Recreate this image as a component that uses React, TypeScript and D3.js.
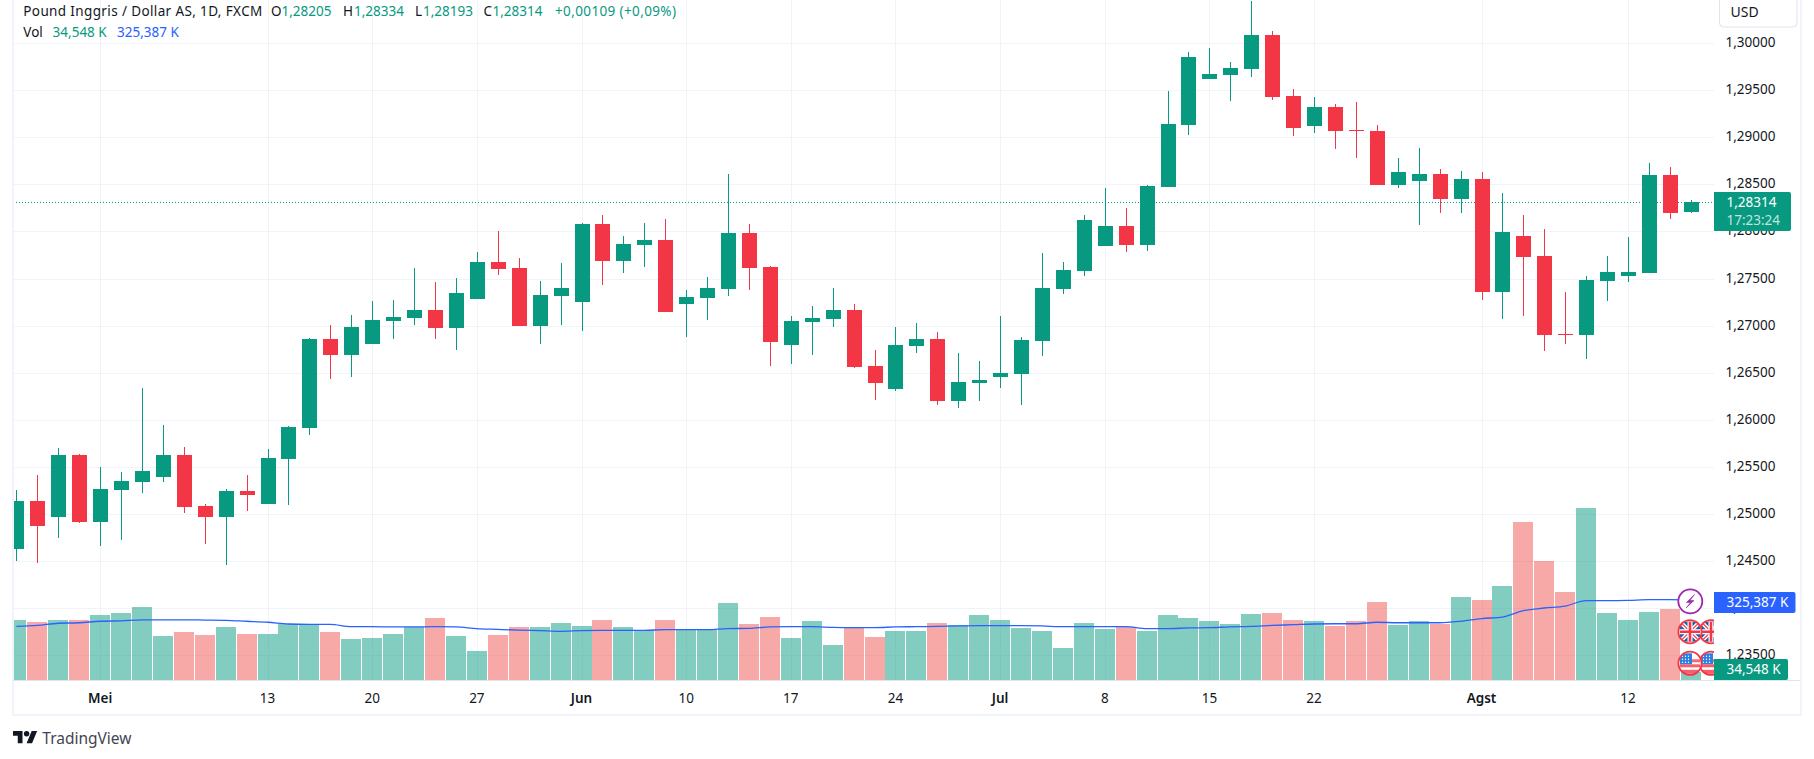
import * as d3 from "d3";

const opens = [
  1.24624, 1.25131, 1.24961, 1.25621, 1.24908, 1.25248, 1.25333, 1.25387, 1.25621, 1.25078, 1.24961,
  1.25238, 1.25099, 1.25578, 1.25908, 1.26855, 1.26684, 1.26802, 1.27046, 1.27078, 1.27163, 1.26972,
  1.2728, 1.27674, 1.2761, 1.26993, 1.27312, 1.27248, 1.28078, 1.27684, 1.27855, 1.27908, 1.27227,
  1.27291, 1.27387, 1.27982, 1.27621, 1.26791, 1.27036, 1.27067, 1.27163, 1.26567, 1.26323, 1.2678,
  1.26855, 1.26195, 1.26387, 1.2645, 1.26482, 1.26833, 1.27387, 1.27578, 1.27844, 1.28057, 1.27855,
  1.28472, 1.29131, 1.29621, 1.29663, 1.29727, 1.30089, 1.2944, 1.29121, 1.29323, 1.29078, 1.29067,
  1.28493, 1.28536, 1.2861, 1.28344, 1.28557, 1.27355, 1.2795, 1.27738, 1.26908, 1.26897, 1.27472,
  1.27525, 1.27557, 1.28599, 1.28205,
];
const highs = [
  1.25248, 1.25408, 1.25695, 1.25631, 1.25493, 1.2544, 1.26333, 1.2594, 1.25706, 1.25099, 1.25259,
  1.25408, 1.25685, 1.25929, 1.26865, 1.27004, 1.2711, 1.27259, 1.2727, 1.2761, 1.27461, 1.27504,
  1.2778, 1.28004, 1.27716, 1.27472, 1.27663, 1.28089, 1.28174, 1.2795, 1.28089, 1.28131, 1.27376,
  1.27514, 1.2861, 1.28078, 1.27631, 1.27099, 1.27206, 1.27397, 1.27227, 1.26738, 1.26982, 1.27025,
  1.26929, 1.26706, 1.26621, 1.27099, 1.26876, 1.2777, 1.27674, 1.28174, 1.28461, 1.28248, 1.28493,
  1.29493, 1.29908, 1.2995, 1.29801, 1.3045, 1.30131, 1.29514, 1.29429, 1.29355, 1.29376, 1.29131,
  1.2878, 1.28887, 1.28663, 1.28642, 1.28631, 1.28408, 1.28174, 1.28025, 1.27355, 1.27525, 1.27738,
  1.2794, 1.28727, 1.28684, 1.28334,
];
const lows = [
  1.24493, 1.24482, 1.24738, 1.24897, 1.24653, 1.24716, 1.25216, 1.25333, 1.25004, 1.24674, 1.24451,
  1.25025, 1.25099, 1.25089, 1.25833, 1.26429, 1.2645, 1.26802, 1.26855, 1.27004, 1.26855, 1.26738,
  1.2728, 1.27536, 1.26993, 1.26802, 1.27004, 1.2694, 1.27429, 1.27557, 1.27621, 1.27142, 1.26876,
  1.27057, 1.27312, 1.27376, 1.26567, 1.26589, 1.26684, 1.26982, 1.26546, 1.26206, 1.26302, 1.26706,
  1.26153, 1.26121, 1.26195, 1.26333, 1.26153, 1.26674, 1.27333, 1.27525, 1.27844, 1.2778, 1.27791,
  1.28472, 1.29025, 1.29621, 1.29387, 1.29642, 1.29397, 1.29014, 1.29046, 1.28876, 1.2878, 1.28493,
  1.28461, 1.28067, 1.28195, 1.28195, 1.2727, 1.27067, 1.27099, 1.26727, 1.26802, 1.26642, 1.27259,
  1.27461, 1.27557, 1.28131, 1.28193,
];
const closes = [
  1.25131, 1.24865, 1.25621, 1.24908, 1.25259, 1.25344, 1.25451, 1.25621, 1.25068, 1.24961, 1.25238,
  1.25195, 1.25589, 1.25919, 1.26855, 1.26684, 1.26982, 1.27057, 1.27089, 1.27163, 1.26972, 1.27344,
  1.27674, 1.27599, 1.26993, 1.27323, 1.27397, 1.28078, 1.27684, 1.27865, 1.27908, 1.27142, 1.27301,
  1.27397, 1.27982, 1.2761, 1.26823, 1.27046, 1.27078, 1.27163, 1.26557, 1.26387, 1.26791, 1.26855,
  1.26195, 1.26397, 1.26419, 1.26493, 1.26844, 1.27397, 1.27589, 1.28121, 1.28057, 1.27855, 1.28482,
  1.29142, 1.29855, 1.29674, 1.29738, 1.30089, 1.29429, 1.29099, 1.29323, 1.29067, 1.29067, 1.28493,
  1.28631, 1.2861, 1.28344, 1.28557, 1.27355, 1.27993, 1.27727, 1.26897, 1.26897, 1.27482, 1.27567,
  1.27567, 1.28599, 1.28195, 1.28314,
];
// volume in thousands
const volumes = [
  244, 236, 244, 244, 264, 273, 297, 179, 195, 183, 216, 187, 187, 228, 228, 195, 167, 171, 187, 216, 252,
  179, 118, 183, 216, 216, 232, 220, 244, 216, 203, 244, 203, 203, 313, 228, 256, 171, 240, 142, 216, 175,
  199, 199, 232, 224, 264, 244, 212, 199, 130, 232, 207, 216, 199, 264, 252, 240, 228, 268, 273, 244, 240,
  220, 240, 317, 224, 240, 228, 338, 325, 382, 643, 484, 358, 700, 273, 244, 277, 289, 34.548,
];
const volumeMa = [
  218, 222, 231, 233, 239, 241, 245, 245, 245, 244, 243, 239, 235, 228, 226, 226, 217, 217, 216, 216, 217,
  216, 209, 206, 203, 201, 198, 201, 202, 202, 202, 205, 205, 205, 209, 210, 216, 217, 217, 214, 213, 213,
  216, 217, 218, 220, 221, 221, 221, 220, 217, 217, 217, 217, 209, 209, 212, 213, 216, 218, 222, 225, 228,
  229, 229, 235, 233, 233, 233, 239, 250, 256, 282, 293, 301, 323, 323, 324, 327, 327, 325.387,
];
const priceTicks = [1.3, 1.295, 1.29, 1.285, 1.28, 1.275, 1.27, 1.265, 1.26, 1.255, 1.25, 1.245, 1.24, 1.235];
const timeTickIndex = [4, 12, 17, 22, 27, 32, 37, 42, 47, 52, 57, 62, 70, 77];
const timeTickLabels = ["Mei", "13", "20", "27", "Jun", "10", "17", "24", "Jul", "8", "15", "22", "Agst", "12"];
const monthLabels = ["Mei", "Jun", "Jul", "Agst"];
const lastPrice = 1.28314;

const UP = "#089981";
const DOWN = "#F23645";
const VOL_UP = "rgba(8,153,129,0.5)";
const VOL_DOWN = "rgba(239,83,80,0.5)";
const GRID = "#f0f3fa";
const TEXT = "#131722";
const FONT = "'Noto Sans', sans-serif";

const WIDTH = 1814;
const HEIGHT = 759;
const PLOT_LEFT = 13;
const PLOT_RIGHT = 1714;
const PLOT_BOTTOM = 680;

const x = d3.scaleLinear().domain([0, 80]).range([16.4, 1690.8]);
const y = d3.scaleLinear().domain([1.3, 1.235]).range([43.3, 654.9]);
const yVol = d3.scaleLinear().domain([0, 700]).range([PLOT_BOTTOM, PLOT_BOTTOM - 172]);
const maLine = d3
  .line<number>()
  .x((_, i) => x(i))
  .y((d) => yVol(d))
  .curve(d3.curveMonotoneX);
const priceFmt = (p: number) => p.toFixed(5).replace(".", ",");

const Legend = ({ px, py, fill, len, children }: any) => (
  <text
    x={px}
    y={py}
    fill={fill}
    fontSize={13.5}
    dominantBaseline="central"
    fontFamily={FONT}
    textLength={len}
    lengthAdjust={len ? "spacing" : undefined}
  >
    {children}
  </text>
);

const Badge = ({ w, fill, h, top }: any) => (
  <path d={`M${PLOT_RIGHT} ${top}H${PLOT_RIGHT + w - 2}q2 0 2 2V${top + h - 2}q0 2 -2 2H${PLOT_RIGHT}Z`} fill={fill} />
);

const UkFlag = ({ cx, cy }: any) => (
  <g transform={`translate(${cx},${cy})`}>
    <circle r={11.8} fill="#fff" />
    <g clipPath="url(#flagCircle)">
      <rect x={-10} y={-10} width={20} height={20} fill="#2460a8" />
      <path d="M-10-10L10 10M10-10L-10 10" stroke="#fff" strokeWidth={4} />
      <path d="M-10-10L10 10M10-10L-10 10" stroke={DOWN} strokeWidth={1.2} />
      <path d="M0-10V10M-10 0H10" stroke="#fff" strokeWidth={5} />
      <path d="M0-10V10M-10 0H10" stroke={DOWN} strokeWidth={2.6} />
    </g>
    <circle r={11.6} fill="none" stroke={DOWN} strokeWidth={1.8} />
  </g>
);

const UsFlag = ({ cx, cy }: any) => (
  <g transform={`translate(${cx},${cy})`}>
    <circle r={11.8} fill="#fff" />
    <g clipPath="url(#flagCircle)">
      <rect x={-10} y={-10} width={20} height={20} fill="#fff" />
      <rect x={-10} y={-10} width={12} height={11} fill="#2e7fe0" />
      <rect x={2} y={-4} width={8} height={3} fill={DOWN} opacity={0.75} />
      <rect x={-10} y={1} width={20} height={3} fill={DOWN} opacity={0.8} />
      <rect x={-10} y={6.5} width={20} height={4} fill={DOWN} opacity={0.8} />
      {[-7.5, -4.5, -1.5].map((a) =>
        [-7, -4, -1].map((b) => <circle key={`${a}${b}`} cx={a} cy={b} r={0.7} fill="#fff" />)
      )}
    </g>
    <circle r={11.6} fill="none" stroke={DOWN} strokeWidth={1.8} />
  </g>
);

export default function App() {
  const lastY = y(lastPrice);
  return (
    <svg
      width={WIDTH}
      height={HEIGHT}
      style={{ position: "absolute", left: 0, top: 0, display: "block", background: "#fff" }}
    >
      <defs>
        <clipPath id="plotClip">
          <rect x={PLOT_LEFT} y={0} width={PLOT_RIGHT - PLOT_LEFT} height={PLOT_BOTTOM} />
        </clipPath>
        <clipPath id="flagCircle">
          <circle r={11} />
        </clipPath>
      </defs>

      {/* grid */}
      <g shapeRendering="crispEdges" stroke={GRID} strokeWidth={1}>
        {priceTicks.map((t) => (
          <line key={t} x1={PLOT_LEFT} x2={PLOT_RIGHT} y1={Math.round(y(t)) + 0.5} y2={Math.round(y(t)) + 0.5} />
        ))}
        {timeTickIndex.map((i) => (
          <line key={i} x1={Math.round(x(i)) + 0.5} x2={Math.round(x(i)) + 0.5} y1={0} y2={PLOT_BOTTOM} />
        ))}
      </g>

      {/* volume */}
      <g clipPath="url(#plotClip)" shapeRendering="crispEdges">
        {volumes.map((v, i) => (
          <rect
            key={i}
            x={Math.round(x(i) - 10)}
            width={20}
            y={yVol(v)}
            height={PLOT_BOTTOM - yVol(v)}
            fill={closes[i] >= opens[i] ? VOL_UP : VOL_DOWN}
          />
        ))}
      </g>
      <g clipPath="url(#plotClip)">
        <path d={maLine(volumeMa) ?? ""} fill="none" stroke="#2962FF" strokeWidth={1.3} />
      </g>

      {/* last price line */}
      <line
        x1={PLOT_LEFT}
        x2={PLOT_RIGHT}
        y1={Math.round(lastY) + 0.5}
        y2={Math.round(lastY) + 0.5}
        stroke={UP}
        strokeWidth={1}
        strokeDasharray="1 2"
      />

      {/* candles */}
      <g clipPath="url(#plotClip)" shapeRendering="crispEdges">
        {opens.map((o, i) => {
          const c = closes[i];
          const color = c >= o ? UP : DOWN;
          const top = y(Math.max(o, c));
          const bot = y(Math.min(o, c));
          const cx = Math.round(x(i));
          return (
            <g key={i} fill={color}>
              <rect x={cx} width={1} y={y(highs[i])} height={y(lows[i]) - y(highs[i])} />
              <rect x={cx - 7} width={15} y={Math.round(top)} height={Math.max(1, Math.round(bot) - Math.round(top))} />
            </g>
          );
        })}
      </g>

      {/* frame */}
      <g fill="#f0f3fa" shapeRendering="crispEdges">
        <rect x={11.5} y={0} width={2} height={716} />
        <rect x={11.5} y={714} width={1790} height={2} />
        <rect x={1800} y={0} width={2} height={716} />
      </g>
      <rect x={13} y={680} width={1787} height={1} fill="#e0e3eb" shapeRendering="crispEdges" />

      {/* price axis */}
      <g fontFamily={FONT} fontSize={13.5} fill={TEXT} dominantBaseline="central">
        {priceTicks.map((t) => (
          <text key={t} x={1725.5} y={y(t) - 1}>
            {priceFmt(t)}
          </text>
        ))}
      </g>

      {/* time axis */}
      <g fontFamily={FONT} fontSize={13.5} fill={TEXT} textAnchor="middle" dominantBaseline="central">
        {timeTickIndex.map((i, k) => (
          <text
            key={i}
            x={x(i)}
            y={697.5}
            fontWeight={monthLabels.includes(timeTickLabels[k]) ? 600 : 400}
          >
            {timeTickLabels[k]}
          </text>
        ))}
      </g>

      {/* currency box */}
      <rect x={1719.5} y={-6} width={77.5} height={33} rx={4} fill="#fff" stroke="#e0e3eb" />
      <text x={1730.5} y={11.5} fontFamily={FONT} fontSize={14} fill={TEXT} dominantBaseline="central">
        USD
      </text>

      {/* event icons */}
      <g>
        <circle cx={1690.3} cy={601.3} r={12} fill="#fff" stroke="#9C27B0" strokeWidth={1.8} />
        <path
          d="M1694.5 594.5L1686.5 602.5H1690.5L1686 608L1694 600.5H1690Z"
          fill="#9C27B0"
          stroke="#9C27B0"
          strokeWidth={0.6}
        />
      </g>
      <svg x={0} y={0} width={PLOT_RIGHT} height={HEIGHT}>
        <UkFlag cx={1711} cy={631.7} />
        <UkFlag cx={1690} cy={631.7} />
        <UsFlag cx={1711} cy={663.3} />
        <UsFlag cx={1690} cy={663.3} />
      </svg>

      {/* scale labels */}
      <Badge top={192} h={39} w={77} fill={UP} />
      <text x={1726.5} y={201.5} fontFamily={FONT} fontSize={13.5} fill="#fff" dominantBaseline="central">
        1,28314
      </text>
      <text
        x={1726.5}
        y={220}
        fontFamily={FONT}
        fontSize={13.5}
        fill="#fff"
        fillOpacity={0.75}
        dominantBaseline="central"
      >
        17:23:24
      </text>
      <Badge top={592} h={21} w={81.5} fill="#2962FF" />
      <text x={1726.5} y={601.5} fontFamily={FONT} fontSize={13.5} fill="#fff" dominantBaseline="central">
        325,387 K
      </text>
      <Badge top={659} h={21} w={74} fill={UP} />
      <text x={1726.5} y={669} fontFamily={FONT} fontSize={13.5} fill="#fff" dominantBaseline="central">
        34,548 K
      </text>

      {/* legend */}
      <Legend px={23.3} py={10.5} fill={TEXT} len={239}>
        Pound Inggris / Dollar AS, 1D, FXCM
      </Legend>
      <Legend px={271} py={10.5} fill={TEXT}>O</Legend>
      <Legend px={281.5} py={10.5} fill={UP}>1,28205</Legend>
      <Legend px={343} py={10.5} fill={TEXT}>H</Legend>
      <Legend px={354} py={10.5} fill={UP}>1,28334</Legend>
      <Legend px={415} py={10.5} fill={TEXT}>L</Legend>
      <Legend px={423} py={10.5} fill={UP}>1,28193</Legend>
      <Legend px={483.6} py={10.5} fill={TEXT}>C</Legend>
      <Legend px={492.5} py={10.5} fill={UP}>1,28314</Legend>
      <Legend px={555} py={10.5} fill={UP} len={121}>+0,00109 (+0,09%)</Legend>
      <Legend px={23.3} py={32} fill={TEXT}>Vol</Legend>
      <Legend px={52.6} py={32} fill={UP}>34,548 K</Legend>
      <Legend px={117} py={32} fill="#2962FF">325,387 K</Legend>

      {/* attribution */}
      <g transform="translate(13,728.3) scale(0.68)" fill="#131722">
        <path d="M14 22H7V11H0V4h14v18zM28 22h-8l7.5-18h8L28 22z" />
        <circle cx={20} cy={8} r={4} />
      </g>
      <text x={42.3} y={737.5} fontFamily={FONT} fontSize={15.5} fill="#434651" dominantBaseline="central">
        TradingView
      </text>
    </svg>
  );
}
